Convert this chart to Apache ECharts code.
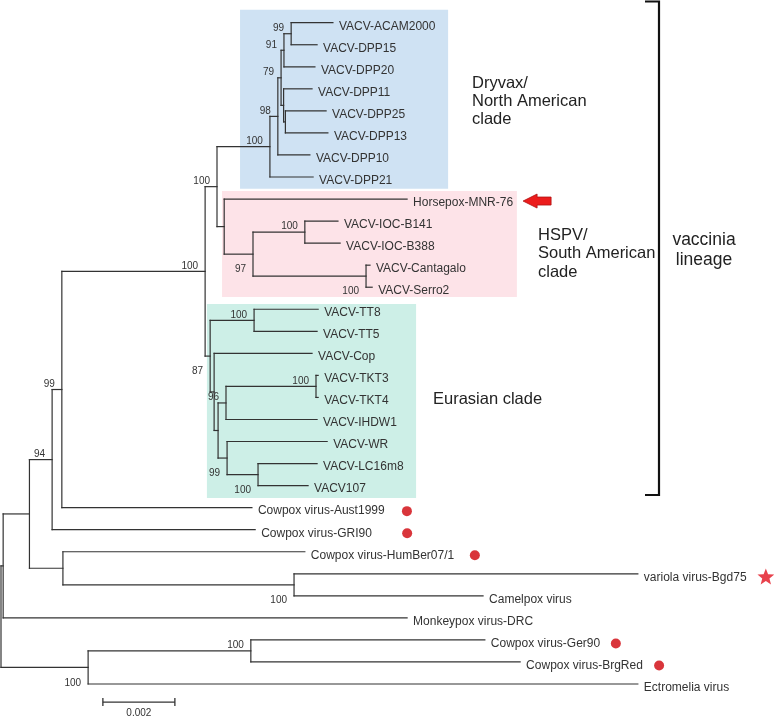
<!DOCTYPE html>
<html><head><meta charset="utf-8">
<script src="https://cdn.jsdelivr.net/npm/echarts@6/dist/echarts.min.js"></script>
<style>html,body{margin:0;padding:0;background:#fff}#c{width:774px;height:717px}</style>
</head><body><div id="c"></div>
<script>
// ---- DATA ----
const tipNames = ['VACV-ACAM2000','VACV-DPP15','VACV-DPP20','VACV-DPP11','VACV-DPP25','VACV-DPP13','VACV-DPP10','VACV-DPP21',
  'Horsepox-MNR-76','VACV-IOC-B141','VACV-IOC-B388','VACV-Cantagalo','VACV-Serro2',
  'VACV-TT8','VACV-TT5','VACV-Cop','VACV-TKT3','VACV-TKT4','VACV-IHDW1','VACV-WR','VACV-LC16m8','VACV107',
  'Cowpox virus-Aust1999','Cowpox virus-GRI90','Cowpox virus-HumBer07/1','variola virus-Bgd75','Camelpox virus',
  'Monkeypox virus-DRC','Cowpox virus-Ger90','Cowpox virus-BrgRed','Ectromelia virus'];
// distance from root (substitutions/site)
const tipDepths = [0.00922,0.00878,0.00872,0.00864,0.00903,0.00908,0.00858,0.00867,
  0.01128,0.00936,0.00942,0.01025,0.01031,
  0.00881,0.00878,0.00864,0.00881,0.00881,0.00878,0.00906,0.00878,0.00853,
  0.00697,0.00706,0.00844,0.01769,0.01339,
  0.01128,0.01344,0.01442,0.01769];
const nodeIds = ['root','n3','n29','n94','n99','e1','n217','dry','n98','n79','n91','n99b','nC','nD',
  'hspv','n97','ioc','cant','e2','tt','e3','e4','n96','tkt','nwr','lc','hb','vc','gb','gerbrg'];
const nodeDepths = [0,0.00006,0.00079,0.00142,0.00169,0.00567,0.006,0.00747,0.00769,0.00778,0.00786,0.00806,0.00785,0.0079,
  0.0062,0.007,0.00844,0.01014,0.00581,0.00703,0.00592,0.00603,0.00625,0.00875,0.00628,0.00714,0.00172,0.00814,0.00242,0.00694];
const nodeChildren = [
  ['n3','gb'], ['n29','Monkeypox virus-DRC'], ['n94','hb'], ['n99','Cowpox virus-GRI90'],
  ['e1','Cowpox virus-Aust1999'], ['n217','e2'], ['dry','hspv'], ['n98','VACV-DPP21'],
  ['n79','VACV-DPP10'], ['n91','nC'], ['n99b','VACV-DPP20'], ['VACV-ACAM2000','VACV-DPP15'],
  ['VACV-DPP11','nD'], ['VACV-DPP25','VACV-DPP13'],
  ['Horsepox-MNR-76','n97'], ['ioc','cant'], ['VACV-IOC-B141','VACV-IOC-B388'], ['VACV-Cantagalo','VACV-Serro2'],
  ['tt','e3'], ['VACV-TT8','VACV-TT5'], ['VACV-Cop','e4'], ['n96','nwr'], ['tkt','VACV-IHDW1'],
  ['VACV-TKT3','VACV-TKT4'], ['VACV-WR','lc'], ['VACV-LC16m8','VACV107'],
  ['Cowpox virus-HumBer07/1','vc'], ['variola virus-Bgd75','Camelpox virus'],
  ['gerbrg','Ectromelia virus'], ['Cowpox virus-Ger90','Cowpox virus-BrgRed']];
const nodeSupport = ['','','','94','99','100','100','100','98','79','91','99','','',
  '','97','100','100','87','100','','','96','100','99','100','','100','100','100'];
const cladeTitles = [['Dryvax/','North American','clade'],['HSPV/','South American','clade'],['Eurasian clade']];
const lineageTitle = ['vaccinia','lineage'];
const scaleBarLength = 0.002;
const scaleBarLabel = '0.002';

// ---- STYLE ----
const FONT = "'Liberation Sans', Arial, sans-serif";
const LINE = '#333';
const TEXT = '#333';
const supportBelow = ['n97','cant','e2','nwr','lc','vc','gb'];
const cladeBoxes = [
  {x:[0.00664,0.01242], y:[-0.59,7.53], color:'#cfe2f3'},
  {x:[0.00614,0.01433], y:[7.63,12.44], color:'#fde3e8'},
  {x:[0.00572,0.01153], y:[12.76,21.56], color:'#cdefe7'}];
const markers = {
  'Cowpox virus-Aust1999':{type:'dot',dx:155},
  'Cowpox virus-GRI90':{type:'dot',dx:152},
  'Cowpox virus-HumBer07/1':{type:'dot',dx:170},
  'Cowpox virus-Ger90':{type:'dot',dx:131},
  'Cowpox virus-BrgRed':{type:'dot',dx:139},
  'variola virus-Bgd75':{type:'star',dx:128},
  'Horsepox-MNR-76':{type:'arrow',dx:116}};
const scaleBarPos = {x:0.00283, y:30.82};

// ---- LAYOUT ----
const info = {};
tipNames.forEach((n,i)=>{info[n]={name:n,depth:tipDepths[i],y:i,tip:true};});
nodeIds.forEach((id,i)=>{info[id]={name:id,depth:nodeDepths[i],children:nodeChildren[i],support:nodeSupport[i],tip:false};});
const list = [];
function layout(id, pd){
  const n = info[id]; n.parentDepth = pd;
  if(!n.tip){
    n.children.forEach(c=>layout(c,n.depth));
    const ys = n.children.map(c=>info[c].y);
    n.y0 = Math.min(...ys); n.y1 = Math.max(...ys); n.y = (n.y0+n.y1)/2;
  } else { n.y0 = n.y; n.y1 = n.y; }
  list.push(n);
}
layout('root', null);
const treeData = list.map(n=>[n.depth, n.y, n.parentDepth==null?n.depth:n.parentDepth, n.y0, n.y1]);

function starPoints(cx,cy,R,r){
  const pts=[];
  for(let i=0;i<10;i++){const a=-Math.PI/2+i*Math.PI/5;const rr=i%2?r:R;pts.push([cx+rr*Math.cos(a),cy+rr*Math.sin(a)]);}
  return pts;
}

const chart = echarts.init(document.getElementById('c'), null, {renderer:'canvas'});
chart.setOption({
  animation:false,
  grid:{left:1, top:22.7, width:720, height:661.3},
  xAxis:{type:'value', min:0, max:0.02, show:false},
  yAxis:{type:'value', min:0, max:30, inverse:true, show:false},
  series:[
    {type:'custom', clip:false, z:1, data:cladeBoxes.map(b=>[b.x[0],b.y[0],b.x[1],b.y[1]]),
     renderItem(params, api){
       const a = api.coord([api.value(0), api.value(1)]);
       const b = api.coord([api.value(2), api.value(3)]);
       return {type:'rect', shape:{x:a[0],y:a[1],width:b[0]-a[0],height:b[1]-a[1]},
               style:{fill:cladeBoxes[params.dataIndex].color}};
     }},
    {type:'custom', clip:false, z:2, data:treeData,
     renderItem(params, api){
       const n = list[params.dataIndex];
       const p = api.coord([api.value(0), api.value(1)]);
       const kids = [];
       const ls = {stroke:LINE, lineWidth:1.2, lineCap:'square'};
       if(n.parentDepth!=null){
         const q = api.coord([api.value(2), api.value(1)]);
         kids.push({type:'line', shape:{x1:q[0],y1:p[1],x2:p[0],y2:p[1]}, style:ls});
       }
       if(!n.tip){
         const a = api.coord([api.value(0), api.value(3)]);
         const b = api.coord([api.value(0), api.value(4)]);
         kids.push({type:'line', shape:{x1:p[0],y1:a[1],x2:p[0],y2:b[1]}, style:ls});
         if(n.support){
           const below = supportBelow.indexOf(n.name)>=0;
           kids.push({type:'text', style:{text:n.support, x:p[0]-7, y:p[1]+(below?15.5:-5.5),
             font:'10px '+FONT, fill:TEXT, align:'right', verticalAlign:'middle', textAlign:'right', textVerticalAlign:'middle'}});
         }
       } else {
         kids.push({type:'text', style:{text:n.name, x:p[0]+6, y:p[1]+3.5,
           font:'12px '+FONT, fill:TEXT, align:'left', verticalAlign:'middle', textAlign:'left', textVerticalAlign:'middle'}});
         const m = markers[n.name];
         if(m){
           const cx = p[0]+m.dx, cy = p[1]+3.5;
           if(m.type==='dot') kids.push({type:'circle', shape:{cx:cx,cy:cy,r:5}, style:{fill:'#d9353b'}});
           else if(m.type==='star') kids.push({type:'polygon', shape:{points:starPoints(cx,cy,8.8,3.8)}, style:{fill:'#e8424c'}});
           else if(m.type==='arrow'){
             const y = p[1]+2;
             kids.push({type:'polygon', shape:{points:[[cx,y],[cx+14,y-7],[cx+14,y-4],[cx+28,y-4],[cx+28,y+4],[cx+14,y+4],[cx+14,y+7]]},
               style:{fill:'#ec1c1c', stroke:'#b01010', lineWidth:0.8}});
           }
         }
       }
       return {type:'group', children:kids};
     }},
    {type:'custom', clip:false, z:3, data:[[scaleBarPos.x, scaleBarPos.y, scaleBarPos.x+scaleBarLength]],
     renderItem(params, api){
       const a = api.coord([api.value(0), api.value(1)]);
       const b = api.coord([api.value(2), api.value(1)]);
       const ls = {stroke:LINE, lineWidth:1.3};
       return {type:'group', children:[
         {type:'line', shape:{x1:a[0],y1:a[1],x2:b[0],y2:b[1]}, style:ls},
         {type:'line', shape:{x1:a[0],y1:a[1]-4,x2:a[0],y2:a[1]+4}, style:ls},
         {type:'line', shape:{x1:b[0],y1:b[1]-4,x2:b[0],y2:b[1]+4}, style:ls},
         {type:'text', style:{text:scaleBarLabel, x:(a[0]+b[0])/2, y:a[1]+11.5, font:'10px '+FONT, fill:TEXT,
           align:'center', verticalAlign:'middle', textAlign:'center', textVerticalAlign:'middle'}}
       ]};
     }}
  ],
  graphic:[
    {type:'text', left:472, top:74, style:{text:cladeTitles[0].join('\n'), font:'16.5px '+FONT, lineHeight:18, fill:'#222'}},
    {type:'text', left:538, top:226, style:{text:cladeTitles[1].join('\n'), font:'16.5px '+FONT, lineHeight:18.5, fill:'#222'}},
    {type:'text', left:433, top:391, style:{text:cladeTitles[2].join('\n'), font:'16.5px '+FONT, fill:'#222'}},
    {type:'text', x:704, y:250, style:{text:lineageTitle.join('\n'), font:'17.5px '+FONT, lineHeight:20, fill:'#222', align:'center', verticalAlign:'middle'}},
    {type:'polyline', shape:{points:[[645,1.5],[659,1.5],[659,495],[645,495]]}, style:{stroke:'#111', lineWidth:2.2, fill:null}}
  ]
});
</script></body></html>
